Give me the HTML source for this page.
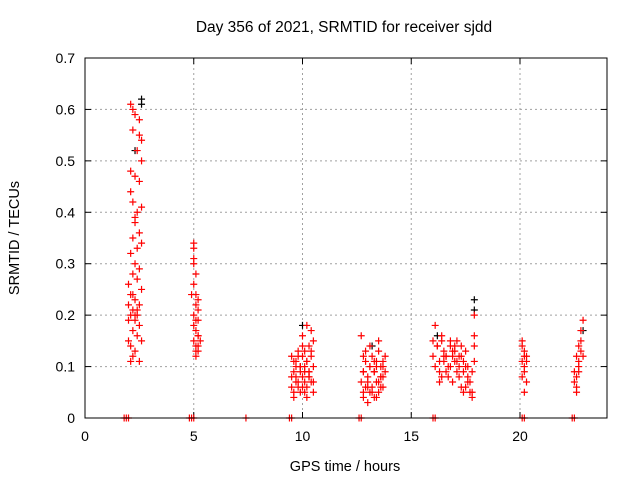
<!DOCTYPE html>
<html><head><meta charset="utf-8"><style>
body{margin:0;background:#fff;}
svg{display:block;font-family:"Liberation Sans",sans-serif;}
</style></head><body>
<svg id="chart" width="640" height="480" viewBox="0 0 640 480">
<rect width="640" height="480" fill="#fff"/>
<text x="344" y="32" font-size="15.5" text-anchor="middle">Day 356 of 2021, SRMTID for receiver sjdd</text>
<text x="345" y="471" font-size="14.5" text-anchor="middle">GPS time / hours</text>
<text transform="translate(19,238) rotate(-90)" font-size="14.5" text-anchor="middle">SRMTID / TECUs</text>
<g id="grid"></g>
<g id="ticks"></g>
<g id="marks"></g>
<rect x="85" y="58" width="522" height="360" fill="none" stroke="#000" stroke-width="1"/>
</svg>
<script>
const xTicks=[0,5,10,15,20];
const yTicks=[0,0.1,0.2,0.3,0.4,0.5,0.6,0.7];
const yTickLabels=["0","0.1","0.2","0.3","0.4","0.5","0.6","0.7"];
const redX=[1.8,1.9,2.0,4.8,4.9,5.0,7.4,9.4,9.5,12.6,12.7,16.0,16.1,20.1,20.2,22.4,22.5,
2.1,2.2,2.3,2.5,2.6,2.2,2.4,2.6,2.5,2.3,2.1,2.2,2.6,2.4,2.3,2.5,2.2,2.6,2.4,2.1,2.3,2.5,2.2,2.4,2.6,2.0,2.1,2.3,2.5,2.2,2.4,2.1,2.3,2.5,2.0,2.2,2.4,2.6,2.1,2.3,2.0,2.2,2.5,2.1,2.4,2.0,2.3,2.2,2.1,2.5,2.3,
5.0,5.0,5.0,5.0,5.1,5.0,4.9,5.1,5.2,5.1,5.2,5.0,5.1,5.2,5.0,5.1,5.2,5.3,5.1,5.0,5.2,5.1,5.2,5.1,5.2,
9.5,9.6,9.7,9.8,9.9,10.0,10.1,10.2,10.3,10.4,10.5,9.5,9.6,9.7,9.8,9.9,10.0,10.1,10.2,10.3,10.4,10.5,9.5,9.6,9.7,9.8,9.9,10.0,10.1,10.2,10.3,10.4,10.5,9.6,9.8,10.0,10.2,10.4,9.7,9.9,10.1,10.3,10.0,10.1,10.5,9.9,10.2,10.3,
12.7,12.8,12.9,13.0,13.1,13.2,13.3,13.4,13.5,13.6,13.7,13.8,12.8,12.9,13.0,13.1,13.2,13.3,13.4,13.5,13.6,13.7,12.7,12.9,13.1,13.3,13.5,13.7,12.8,13.0,13.2,13.4,13.6,13.8,12.8,13.1,13.4,13.7,13.0,13.3,13.6,12.8,13.5,
16.0,16.1,16.2,16.3,16.4,16.5,16.6,16.7,16.8,16.9,17.0,17.1,17.2,17.3,17.4,17.5,17.6,17.7,17.8,17.9,16.1,16.3,16.5,16.7,16.9,17.1,17.3,17.5,17.7,17.9,16.2,16.4,16.6,16.8,17.0,17.2,17.4,17.6,17.8,16.0,16.5,17.0,17.5,16.3,16.8,17.3,17.8,16.6,17.1,17.6,16.4,17.2,17.9,17.9,16.9,17.4,
20.1,20.1,20.2,20.2,20.3,20.2,20.3,20.1,20.2,20.3,20.2,20.1,
22.5,22.6,22.7,22.8,22.9,22.6,22.7,22.8,22.5,22.6,22.7,22.8,22.9,22.6,22.7];
const redY=[0,0,0,0,0,0,0,0,0,0,0,0,0,0,0,0,0,
0.61,0.60,0.59,0.55,0.54,0.56,0.52,0.50,0.46,0.47,0.44,0.42,0.41,0.40,0.38,0.36,0.35,0.34,0.33,0.32,0.30,0.29,0.28,0.27,0.25,0.26,0.24,0.23,0.22,0.21,0.21,0.20,0.19,0.18,0.19,0.17,0.16,0.15,0.14,0.13,0.15,0.12,0.11,0.11,0.20,0.22,0.20,0.24,0.48,0.58,0.39,
0.34,0.33,0.31,0.30,0.28,0.26,0.24,0.24,0.23,0.22,0.21,0.20,0.19,0.19,0.18,0.17,0.16,0.15,0.14,0.15,0.13,0.12,0.14,0.13,0.16,
0.12,0.11,0.10,0.12,0.09,0.08,0.10,0.11,0.09,0.12,0.10,0.08,0.09,0.07,0.06,0.10,0.12,0.07,0.06,0.08,0.07,0.05,0.06,0.05,0.08,0.07,0.05,0.06,0.05,0.04,0.09,0.13,0.15,0.04,0.13,0.14,0.18,0.17,0.11,0.10,0.13,0.14,0.16,0.09,0.07,0.10,0.11,0.08,
0.07,0.09,0.11,0.08,0.10,0.12,0.09,0.11,0.13,0.08,0.10,0.12,0.05,0.06,0.07,0.05,0.06,0.04,0.07,0.05,0.06,0.08,0.16,0.13,0.10,0.09,0.07,0.06,0.04,0.03,0.05,0.04,0.08,0.09,0.12,0.14,0.10,0.11,0.06,0.11,0.10,0.09,0.15,
0.12,0.18,0.14,0.11,0.15,0.13,0.12,0.10,0.14,0.13,0.11,0.15,0.12,0.14,0.09,0.10,0.08,0.07,0.09,0.20,0.10,0.09,0.11,0.08,0.07,0.09,0.12,0.06,0.05,0.11,0.14,0.16,0.12,0.10,0.13,0.08,0.05,0.07,0.05,0.15,0.12,0.14,0.13,0.07,0.15,0.06,0.04,0.09,0.11,0.10,0.08,0.10,0.14,0.16,0.12,0.11,
0.15,0.14,0.13,0.12,0.11,0.10,0.12,0.08,0.09,0.07,0.05,0.11,
0.09,0.12,0.14,0.17,0.19,0.08,0.10,0.13,0.07,0.06,0.11,0.15,0.12,0.05,0.09];
const blackX=[2.6,2.6,2.3,17.9,17.9,16.2,10.0,13.2,22.9];
const blackY=[0.62,0.61,0.52,0.23,0.21,0.16,0.18,0.14,0.17];
const X0=85,X1=607,Y0=418,Y1=58;
function sx(v){return X0+(v-0)/(24-0)*(X1-X0);}
function sy(v){return Y0-(v-0)/(0.7-0)*(Y0-Y1);}
const NS="http://www.w3.org/2000/svg";
function mk(tag,attrs,parent){const e=document.createElementNS(NS,tag);for(const k in attrs)e.setAttribute(k,attrs[k]);parent.appendChild(e);return e;}
const grid=document.getElementById('grid'),ticks=document.getElementById('ticks'),marks=document.getElementById('marks');
xTicks.forEach(v=>{const x=sx(v);
 if(v>0){const g=mk('line',{x1:x,x2:x,y1:Y1,y2:Y0,stroke:'#a0a0a0','stroke-dasharray':'2,3'},grid);
 
 }
 mk('line',{x1:x,x2:x,y1:Y0,y2:Y0-6,stroke:'#000'},ticks);
 mk('line',{x1:x,x2:x,y1:Y1,y2:Y1+6,stroke:'#000'},ticks);
 const t=mk('text',{x:x,y:Y0+23,'font-size':14,'text-anchor':'middle'},ticks);t.textContent=v;
 
 
});
yTicks.forEach((v,i)=>{const y=sy(v);
 if(i>0&&i<yTicks.length-1){const g=mk('line',{x1:X0,x2:X1,y1:y,y2:y,stroke:'#a0a0a0','stroke-dasharray':'2,3'},grid);
 
 }
 mk('line',{x1:X0,x2:X0+6,y1:y,y2:y,stroke:'#000'},ticks);
 mk('line',{x1:X1,x2:X1-6,y1:y,y2:y,stroke:'#000'},ticks);
 const t=mk('text',{x:X0-10,y:y+5,'font-size':14,'text-anchor':'end'},ticks);t.textContent=yTickLabels[i];
 
 
});
function plus(xs,ys,col,name){for(let i=0;i<xs.length;i++){const x=sx(xs[i]),y=sy(ys[i]);
 const p=mk('path',{d:`M${x-3.5} ${y}H${x+3.5}M${x} ${y-3.5}V${y+3.5}`,stroke:col,'stroke-width':1.2,fill:'none'},marks);
 
 }}
plus(blackX,blackY,'#000','black-point');
plus(redX,redY,'#f00','red-point');
</script>
</body></html>
